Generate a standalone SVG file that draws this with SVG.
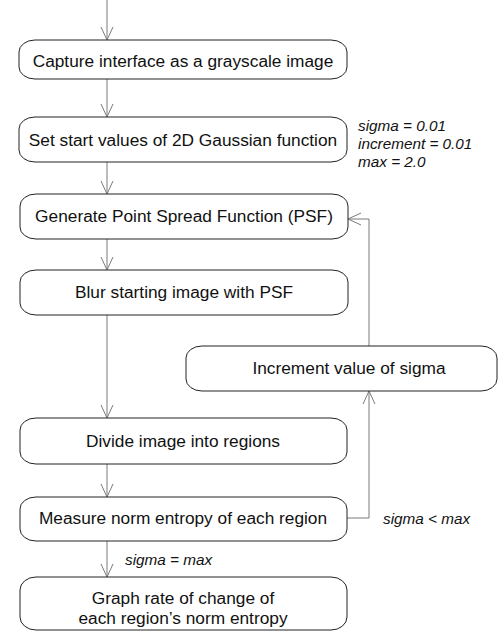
<svg xmlns="http://www.w3.org/2000/svg" width="499" height="632" viewBox="0 0 499 632">
<defs>
<marker id="arr" viewBox="0 0 14 14" refX="13" refY="7" markerWidth="14" markerHeight="14" markerUnits="userSpaceOnUse" orient="auto">
<path d="M0,1 L13,7 L0,13" fill="none" stroke="#7a7a7a" stroke-width="1"/>
</marker>
</defs>
<style>
.box{fill:#fff;stroke:#222;stroke-width:1}
.t{font-family:"Liberation Sans",Arial,sans-serif;font-size:17.3px;fill:#111;text-anchor:middle;dominant-baseline:central}
.n{font-family:"Liberation Sans",Arial,sans-serif;font-size:15.3px;font-style:italic;fill:#111;dominant-baseline:central}
.c{fill:none;stroke:#7a7a7a;stroke-width:1}
</style>
<rect width="499" height="632" fill="#fff"/>
<g id="connectors">
<line class="c" x1="107" y1="0" x2="107" y2="40" marker-end="url(#arr)"/>
<line class="c" x1="107" y1="79" x2="107" y2="117" marker-end="url(#arr)"/>
<line class="c" x1="107" y1="162" x2="107" y2="194" marker-end="url(#arr)"/>
<line class="c" x1="107" y1="239" x2="107" y2="270" marker-end="url(#arr)"/>
<line class="c" x1="107" y1="315" x2="107" y2="418" marker-end="url(#arr)"/>
<line class="c" x1="107" y1="464" x2="107" y2="497" marker-end="url(#arr)"/>
<line class="c" x1="107" y1="541" x2="107" y2="577" marker-end="url(#arr)"/>
<polyline class="c" points="347,518 369,518 369,391" marker-end="url(#arr)"/>
<polyline class="c" points="369,346 369,219 348,219" marker-end="url(#arr)"/>
</g>
<g id="n1"><rect class="box" x="19" y="40" width="328" height="39" rx="16" ry="12"/><text class="t" x="183" y="61">Capture interface as a grayscale image</text></g>
<g id="n2"><rect class="box" x="19" y="117" width="328" height="45" rx="16" ry="12"/><text class="t" x="183" y="140">Set start values of 2D Gaussian function</text></g>
<g id="n3"><rect class="box" x="20" y="194" width="328" height="45" rx="16" ry="12"/><text class="t" x="184" y="216">Generate Point Spread Function (PSF)</text></g>
<g id="n4"><rect class="box" x="20" y="270" width="328" height="45" rx="16" ry="12"/><text class="t" x="184" y="292">Blur starting image with PSF</text></g>
<g id="n5"><rect class="box" x="186" y="346" width="311" height="45" rx="16" ry="12"/><text class="t" x="349" y="368">Increment value of sigma</text></g>
<g id="n6"><rect class="box" x="20" y="418" width="327" height="46" rx="16" ry="12"/><text class="t" x="183" y="441">Divide image into regions</text></g>
<g id="n7"><rect class="box" x="20" y="497" width="327" height="44" rx="16" ry="12"/><text class="t" x="183" y="518">Measure norm entropy of each region</text></g>
<g id="n8"><rect class="box" x="20" y="577" width="327" height="53" rx="16" ry="13"/><text class="t" x="183" y="598">Graph rate of change of</text><text class="t" x="183" y="618">each region’s norm entropy</text></g>
<g id="notes">
<text class="n" x="358" y="125">sigma = 0.01</text>
<text class="n" x="358" y="143">increment = 0.01</text>
<text class="n" x="358" y="161">max = 2.0</text>
<text class="n" x="383" y="518">sigma &lt; max</text>
<text class="n" x="125" y="559">sigma = max</text>
</g>
</svg>
